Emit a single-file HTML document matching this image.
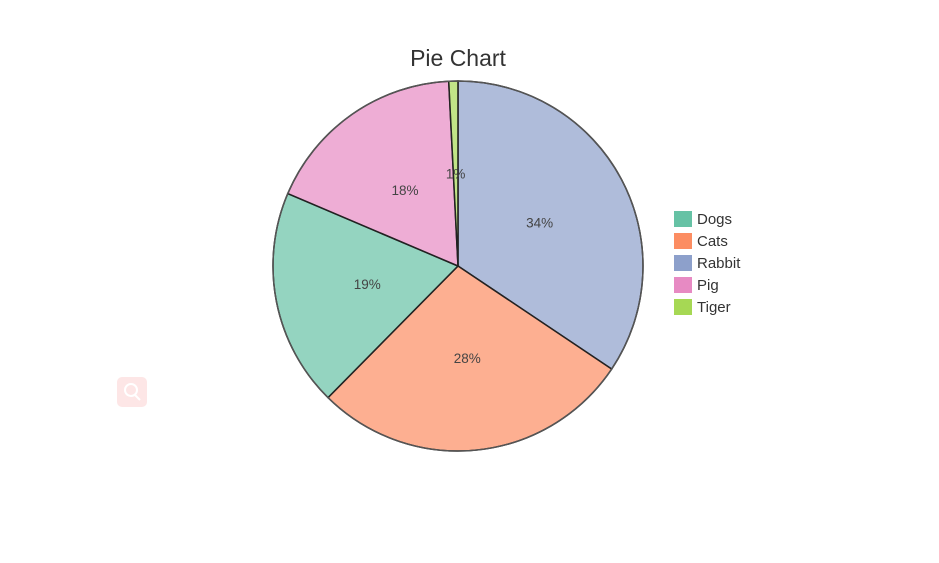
<!DOCTYPE html>
<html><head><meta charset="utf-8"><style>
body{margin:0;background:#fff;width:939px;height:558px;overflow:hidden;font-family:"Liberation Sans",sans-serif}
</style></head><body>
<svg width="939" height="558">
<text x="458" y="66" text-anchor="middle" font-size="23" fill="#333">Pie Chart</text>
<g id="slices"></g>
<g id="labels"></g>
<g id="legend"></g>
<rect x="117" y="377" width="30" height="30" rx="5" fill="#fde6e6"/>
<circle cx="131" cy="390" r="6" fill="none" stroke="#fff" stroke-width="2"/>
<line x1="135" y1="395" x2="140" y2="400" stroke="#fff" stroke-width="2"/>
</svg>
<script>
const categories=["Rabbit","Cats","Dogs","Pig","Tiger"];
const values=[34.4,28,19,17.8,0.8];
const legendOrder=["Dogs","Cats","Rabbit","Pig","Tiger"];
const baseColors={Dogs:"#66c2a5",Cats:"#fc8d62",Rabbit:"#8da0cb",Pig:"#e78ac3",Tiger:"#a6d854"};
const NS="http://www.w3.org/2000/svg";
const cx=458,cy=266,R=185;
const total=values.reduce((a,b)=>a+b,0);
const sl=document.getElementById('slices'),lb=document.getElementById('labels'),lg=document.getElementById('legend');
function pt(a,r){return [cx+r*Math.sin(a),cy-r*Math.cos(a)];}
let acc=0;
values.forEach((v,i)=>{
 const a0=acc/total*2*Math.PI; acc+=v; const a1=acc/total*2*Math.PI;
 const p0=pt(a0,R),p1=pt(a1,R);
 const path=document.createElementNS(NS,'path');
 path.setAttribute('d',`M${cx},${cy}L${p0[0]},${p0[1]}A${R},${R} 0 ${a1-a0>Math.PI?1:0} 1 ${p1[0]},${p1[1]}Z`);
 path.setAttribute('fill',baseColors[categories[i]]);
 path.setAttribute('fill-opacity','0.7');
 path.setAttribute('stroke','#222');path.setAttribute('stroke-width','1.5');
 
 
 sl.appendChild(path);
 const pm=pt((a0+a1)/2,R*0.5);
 const t=document.createElementNS(NS,'text');
 t.setAttribute('x',pm[0]);t.setAttribute('y',pm[1]+5);
 t.setAttribute('text-anchor','middle');t.setAttribute('font-size','13.5');t.setAttribute('fill','#444');
 t.textContent=Math.round(v/total*100)+'%';
 
 
 lb.appendChild(t);
});
const ring=document.createElementNS(NS,'circle');
ring.setAttribute('cx',cx);ring.setAttribute('cy',cy);ring.setAttribute('r',R);
ring.setAttribute('fill','none');ring.setAttribute('stroke','#555');ring.setAttribute('stroke-width','1.5');


sl.appendChild(ring);
legendOrder.forEach((n,i)=>{
 const y=211+i*22;
 const g=document.createElementNS(NS,'g');
 
 
 const r=document.createElementNS(NS,'rect');
 r.setAttribute('x',674);r.setAttribute('y',y);r.setAttribute('width',18);r.setAttribute('height',16);
 r.setAttribute('fill',baseColors[n]);
 const t=document.createElementNS(NS,'text');
 t.setAttribute('x',697);t.setAttribute('y',y+13);t.setAttribute('font-size','15');t.setAttribute('fill','#333');
 t.textContent=n;
 g.appendChild(r);g.appendChild(t);lg.appendChild(g);
});
</script>
</body></html>
